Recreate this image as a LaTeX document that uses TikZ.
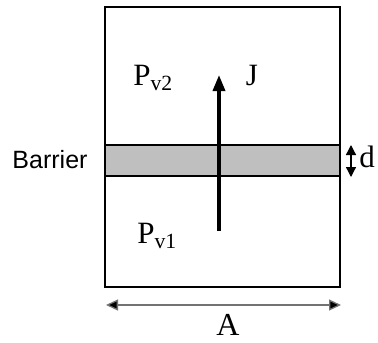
\documentclass[tikz,border=0pt]{standalone}
\usepackage{fontspec}
\setmainfont{Liberation Serif}
\setsansfont{Liberation Sans}
\usetikzlibrary{arrows.meta, positioning}
\tikzset{
	chamber/.style={draw=black, line width=1.5pt, minimum width=235pt, minimum height=280pt, inner sep=0pt},
	band/.style={draw=black, line width=1.5pt, fill=black!25, minimum width=235pt, minimum height=31pt, inner sep=0pt},
	lbl/.style={font=\fontsize{31}{33}\selectfont, inner sep=0pt},
	fluxarrow/.style={-{Triangle[length=16pt, width=12pt]}, line width=3.5pt},
	dimarrow/.style={{Triangle[length=12pt, width=11pt, fill=black]}-{Triangle[length=12pt, width=11pt, fill=black]}, line width=1.3pt, draw=black!55},
	thickarrow/.style={{Triangle[length=10pt, width=10pt]}-{Triangle[length=10pt, width=10pt]}, line width=1.3pt},
}
\begin{document}
\begin{tikzpicture}[x=1pt, y=-1pt]
	\useasboundingbox (0,0) rectangle (378,343);
	\node[chamber] (box) at (222.5,147) {};
	\node[band] (barrier) at (222.5,160.5) {};
	% flux through the barrier
	\coordinate (jfoot) at (219,231);
	\coordinate (jtip) at (219,75);
	\draw[fluxarrow] (jfoot) -- (jtip);
	\node[lbl] (pv2) at (153,78) {P\textsubscript{v2}};
	\node[lbl] (pv1) at (157,236) {P\textsubscript{v1}};
	\node[lbl] (j) at (252,76) {J};
	\node[font=\sffamily\fontsize{25}{27}\selectfont, inner sep=0pt] (blbl) at (50,160) {Barrier};
	% thickness and width
	\coordinate (dtop) at (351,145);
	\coordinate (dbot) at (351,177);
	\draw[thickarrow] (dtop) -- (dbot);
	\node[lbl] (d) at (367,157) {d};
	\coordinate (aleft) at (106,305);
	\coordinate (aright) at (341,305);
	\draw[dimarrow] (aleft) -- (aright);
	\node[lbl, font=\fontsize{32}{34}\selectfont] (a) at (228,325) {A};
\end{tikzpicture}
\end{document}
